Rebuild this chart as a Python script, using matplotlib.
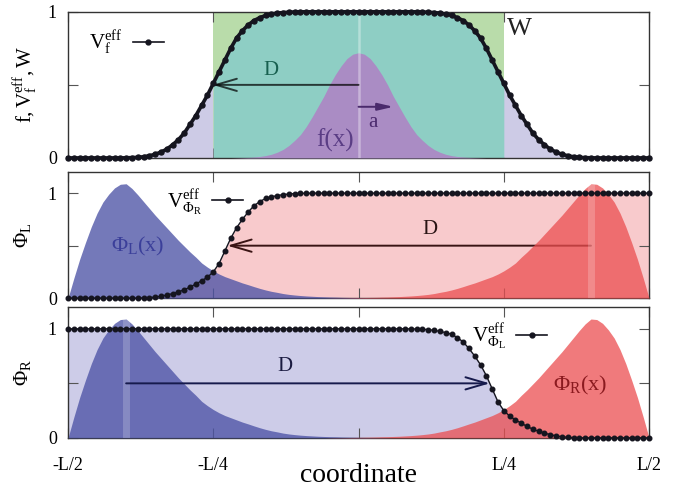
import numpy as np
import matplotlib
matplotlib.use('Agg')
import matplotlib.pyplot as plt
from matplotlib.lines import Line2D

plt.rcParams['font.family'] = ['Liberation Serif', 'DejaVu Serif']
plt.rcParams['mathtext.fontset'] = 'custom'
plt.rcParams['mathtext.rm'] = 'Liberation Serif'
plt.rcParams['mathtext.it'] = 'Liberation Serif:italic'

## coordinate grid, in units of L (-L/2 .. L/2, step L/100)
coord = np.linspace(-0.5, 0.5, 101)

## f(x)
f_x = [0] * 29 + [
    0.001, 0.002, 0.003, 0.006, 0.01, 0.016, 0.025, 0.039, 0.058, 0.085,
    0.12, 0.16, 0.215, 0.28, 0.35, 0.42, 0.50, 0.57, 0.63, 0.68, 0.71,
    0.72,
    0.71, 0.68, 0.63, 0.57, 0.50, 0.42, 0.35, 0.28, 0.215, 0.16,
    0.12, 0.085, 0.058, 0.039, 0.025, 0.016, 0.01, 0.006, 0.003, 0.002, 0.001,
] + [0] * 29

## V_f^eff (dotted curve, top panel)
v_f = [0] * 10 + [
    0.001, 0.002, 0.004, 0.008, 0.015, 0.025, 0.04, 0.06, 0.09, 0.125,
    0.17, 0.23, 0.29, 0.36, 0.43, 0.51, 0.59, 0.67, 0.75, 0.82,
    0.87, 0.91, 0.94, 0.96, 0.975, 0.985, 0.991, 0.995, 0.997, 0.999,
] + [1] * 21 + [
    0.999, 0.997, 0.995, 0.991, 0.985, 0.975, 0.96, 0.94, 0.91, 0.87,
    0.82, 0.75, 0.67, 0.59, 0.51, 0.43, 0.36, 0.29, 0.23, 0.17,
    0.125, 0.09, 0.06, 0.04, 0.025, 0.015, 0.008, 0.004, 0.002, 0.001,
] + [0] * 10

## Phi_R(x) (right lobe); Phi_L is its mirror image
phi_R = [0] * 45 + [
    0.001, 0.002, 0.002, 0.003, 0.004,
    0.005, 0.006, 0.007, 0.008, 0.01, 0.011, 0.013, 0.015, 0.018, 0.021,
    0.025, 0.03, 0.036, 0.044, 0.055, 0.065, 0.078, 0.093, 0.11, 0.128,
    0.145, 0.165, 0.185, 0.205, 0.23, 0.26, 0.295, 0.335, 0.39, 0.44,
    0.495, 0.55, 0.61, 0.67, 0.73, 0.79, 0.855, 0.92, 0.985, 1.045,
    1.09, 1.085, 1.05, 0.99, 0.915, 0.81, 0.68, 0.53, 0.37, 0.19,
    0.0,
]
phi_L = phi_R[::-1]

## V^eff_{Phi_R} (dotted curve, middle panel); V^eff_{Phi_L} is its mirror
v_phiR = [0] * 13 + [
    0.002, 0.005, 0.01, 0.018, 0.03, 0.043, 0.06, 0.08, 0.105, 0.135,
    0.165, 0.20, 0.25, 0.33, 0.45, 0.57, 0.67, 0.75, 0.82, 0.88,
    0.92, 0.95, 0.965, 0.977, 0.986, 0.992, 0.996, 0.998, 0.999,
] + [1] * 59
v_phiL = v_phiR[::-1]

## window W
w_left, w_right, w_height = -0.25, 0.25, 1.0
a_width = 0.06

xticks = [-0.5, -0.25, 0, 0.25, 0.5]
xticklabels = ['-L/2', '-L/4', '', 'L/4', 'L/2']

f_x = np.array(f_x, dtype=np.float64)
v_f = np.array(v_f, dtype=np.float64)
phi_R = np.array(phi_R, dtype=np.float64)
phi_L = np.array(phi_L, dtype=np.float64)
v_phiR = np.array(v_phiR, dtype=np.float64)
v_phiL = np.array(v_phiL, dtype=np.float64)

blue = '#4d53a6'
red = '#eb4e50'
dots = '#15151f'


def style(ax, ymax):
    ax.set_xlim(-0.5, 0.5)
    ax.set_ylim(0, ymax)
    ax.set_xticks(xticks)
    ax.set_xticklabels([])
    ax.set_yticks([0, 0.5, 1])
    ax.set_yticklabels(['0', '', '1'])
    ax.tick_params(direction='in', length=7, width=0.8, color='#555555',
                   top=True, right=True, labelsize=13)
    ax.tick_params(axis='y', pad=8)
    for s in ax.spines.values():
        s.set_color('#333333')
        s.set_linewidth(1.0)


def d_arrow(ax, x0, x1, color, alpha, z):
    ax.annotate('', xy=(x1, 0.5), xytext=(x0, 0.5), zorder=z,
                arrowprops=dict(arrowstyle='->,head_length=0.75,head_width=0.22',
                                color=color, alpha=alpha, lw=1.4,
                                shrinkA=0, shrinkB=0, mutation_scale=20))


def legend(ax, label, x, y):
    h = Line2D([], [], color=dots, lw=1.2, marker='o', ms=3.5)
    ax.legend([h], [label], loc='center left', bbox_to_anchor=(x, y),
              frameon=False, markerfirst=False, handlelength=1.5,
              handletextpad=0.5, borderpad=0, borderaxespad=0, fontsize=15)


fig = plt.figure(figsize=(6.81, 4.92), dpi=100)
ax1 = fig.add_axes([0.0999, 0.679, 0.8532, 0.297])
ax2 = fig.add_axes([0.0999, 0.394, 0.8532, 0.256])
ax3 = fig.add_axes([0.0999, 0.110, 0.8532, 0.266])

## ---- top panel: W, f(x), V_f^eff
style(ax1, 1.0)
inside = np.abs(coord) <= w_right + 1e-9
outside = np.abs(coord) >= w_right - 1e-9
ax1.fill_between([w_left, w_right], 0, w_height, color='#b9dcaa', lw=0, zorder=1)
ax1.fill_between(coord, 0, v_f, where=outside, color='#cdcbe6', lw=0, zorder=2)
ax1.fill_between(coord, 0, v_f, where=inside, color='#8ecec4', lw=0, zorder=2)
ax1.fill_between(coord, 0, f_x, color='#aa8cc4', lw=0, zorder=3)
x_peak = coord[np.argmax(f_x)]
ax1.vlines(x_peak, 0, w_height, colors='white', alpha=0.35, lw=1.8, zorder=4)
x_mid = np.interp(0.5, v_f[:51], coord[:51])
d_arrow(ax1, x_peak, x_mid, 'black', 0.72, 5)
ax1.annotate('', xy=(x_peak + a_width, 0.35), xytext=(x_peak, 0.35), zorder=5,
             arrowprops=dict(arrowstyle='-|>,head_length=0.47,head_width=0.11',
                             color='#4a2a6c', lw=1.4, shrinkA=0, shrinkB=0,
                             mutation_scale=20))
ax1.plot(coord, v_f, '-o', color=dots, lw=2.6, ms=3.6, clip_on=False, zorder=6)
ax1.text(-0.151, 0.60, 'D', color='#17604f', fontsize=15, ha='center', va='center')
ax1.text(0.024, 0.24, 'a', color='#4b2a6e', fontsize=15, ha='center', va='center')
ax1.text(-0.04, 0.12, 'f(x)', color='#5a3d85', fontsize=18, ha='center', va='center')
ax1.text(0.276, 0.88, 'W', color='#222222', fontsize=19, ha='center', va='center')
legend(ax1, r'$\mathrm{V_f^{eff}}$', 0.036, 0.79)
ax1.set_ylabel(r'$\mathrm{f,V_f^{eff},W}$', fontsize=15)
ax1.yaxis.set_label_coords(-0.048, 0.5)

## ---- middle panel: Phi_L, Phi_R, V^eff_{Phi_R}
style(ax2, 1.2)
ax2.fill_between(coord, 0, v_phiR, color='#f8cacc', lw=0, zorder=1)
x_peakR = coord[np.argmax(phi_R)]
x_midR = np.interp(0.5, v_phiR[:51], coord[:51])
d_arrow(ax2, x_peakR, x_midR, '#3a1414', 1.0, 2)
ax2.fill_between(coord, 0, phi_L, color=blue, alpha=0.78, lw=0, zorder=3)
ax2.fill_between(coord, 0, phi_R, color=red, alpha=0.75, lw=0, zorder=3)
ax2.vlines(x_peakR, 0, phi_R.max(), colors='white', alpha=0.2, lw=5, zorder=4)
ax2.plot(coord, v_phiR, '-o', color=dots, lw=1.0, ms=3.3, clip_on=False, zorder=6)
ax2.text(0.123, 0.65, 'D', color='#2a1414', fontsize=15, ha='center', va='center')
ax2.text(-0.38, 0.49, r'$\mathrm{\Phi_L(x)}$', color='#3b3f9a', fontsize=16,
         ha='center', va='center')
legend(ax2, r'$\mathrm{V^{eff}_{\Phi_R}}$', 0.170, 0.764)
ax2.set_ylabel(r'$\mathrm{\Phi_L}$', fontsize=15)
ax2.yaxis.set_label_coords(-0.06, 0.5)

## ---- bottom panel: Phi_L, Phi_R, V^eff_{Phi_L}
style(ax3, 1.2)
ax3.fill_between(coord, 0, v_phiL, color='#cdcce8', lw=0, zorder=1)
ax3.fill_between(coord, 0, phi_L, color=blue, alpha=0.78, lw=0, zorder=3)
ax3.fill_between(coord, 0, phi_R, color=red, alpha=0.75, lw=0, zorder=3)
x_peakL = coord[np.argmax(phi_L)]
ax3.vlines(x_peakL, 0, phi_L.max(), colors='white', alpha=0.2, lw=5, zorder=4)
x_midL = np.interp(0.5, v_phiL[50:][::-1], coord[50:][::-1])
d_arrow(ax3, x_peakL, x_midL, '#161a4c', 1.0, 5)
ax3.plot(coord, v_phiL, '-o', color=dots, lw=1.0, ms=3.3, clip_on=False, zorder=6)
ax3.text(-0.127, 0.65, 'D', color='#1a1a40', fontsize=15, ha='center', va='center')
ax3.text(0.381, 0.48, r'$\mathrm{\Phi_R(x)}$', color='#8b1a1f', fontsize=16,
         ha='center', va='center')
legend(ax3, r'$\mathrm{V^{eff}_{\Phi_L}}$', 0.695, 0.774)
ax3.set_ylabel(r'$\mathrm{\Phi_R}$', fontsize=15)
ax3.yaxis.set_label_coords(-0.06, 0.5)

ax3.set_xticklabels(xticklabels)
ax3.tick_params(axis='x', pad=14)
ax3.set_xlabel('coordinate', fontsize=20)
ax3.xaxis.set_label_coords(0.5, -0.19)

fig.savefig('out.png', dpi=100)
